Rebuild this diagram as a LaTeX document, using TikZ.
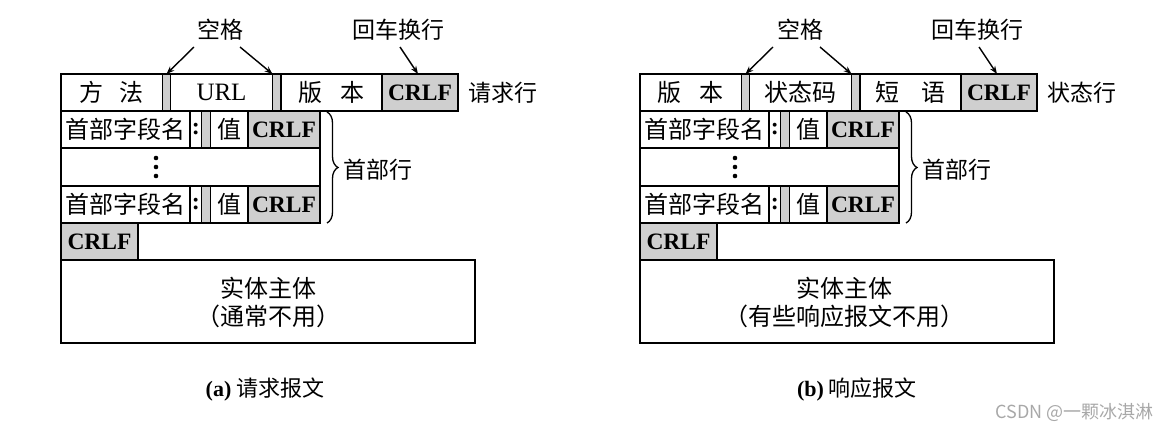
\documentclass[tikz,border=0pt]{standalone}
\usepackage{fontspec}
\setmainfont{Liberation Serif}
\newfontfamily\cjk{Noto Sans CJK SC}
\usetikzlibrary{arrows.meta,decorations.pathreplacing}
\definecolor{cellgray}{HTML}{CFCFCF}
\definecolor{wm}{HTML}{A8A8A8}
\newcommand\lat{\rmfamily}
\newcommand\cellbox[7]{\node[#2, minimum width={#5pt-#3pt}, minimum height={#6pt-#4pt}] (#1) at ({(#3+#5)/2},{(#4+#6)/2}) {#7};}
\newcommand\crlf{{\lat\bfseries\fontsize{23.5}{26}\selectfont CRLF}}
\tikzset{
  cell/.style={draw, line width=1.5pt, inner sep=0pt, outer sep=0pt, font=\cjk\fontsize{24}{26}\selectfont},
  graycell/.style={cell, fill=cellgray},
  lbl/.style={inner sep=0pt, font=\cjk\fontsize{23}{25}\selectfont},
  arr/.style={line width=1.4pt, -{Stealth[length=8pt,width=6pt]}},
  brc/.style={line width=1.3pt, decorate, decoration={brace, amplitude=11pt}},
}
\begin{document}
\begin{tikzpicture}[x=1pt,y=-1pt]
\useasboundingbox (0,0) rectangle (1170,431);
% ---------------- (a) request ----------------
\cellbox{a-meth}{cell}{61}{74}{162.5}{111}{方\hspace{16pt}法}
\cellbox{a-gap1}{graycell}{162.5}{74}{170.5}{111}{}
\cellbox{a-url}{cell}{170.5}{74}{272.5}{111}{\lat\fontsize{25}{27}\selectfont URL}
\cellbox{a-gap2}{graycell}{272.5}{74}{281}{111}{}
\cellbox{a-ver}{cell}{281}{74}{382}{111}{版\hspace{18pt}本}
\cellbox{a-crlf}{graycell}{382}{74}{458}{111}{\crlf}
\node[lbl] (a-reqline) at (503,93) {请求行};
\cellbox{a-h1name}{cell}{61}{111}{190}{148}{首部字段名}
\cellbox{a-h1col}{cell}{190}{111}{201.5}{148}{\lat\bfseries :}
\cellbox{a-h1gap}{graycell}{201.5}{111}{210.5}{148}{}
\cellbox{a-h1val}{cell}{210.5}{111}{248}{148}{值}
\cellbox{a-h1crlf}{graycell}{248}{111}{320}{148}{\crlf}
\cellbox{a-dots}{cell}{61}{148}{320}{186}{}
\cellbox{a-h2name}{cell}{61}{186}{190}{223}{首部字段名}
\cellbox{a-h2col}{cell}{190}{186}{201.5}{223}{\lat\bfseries :}
\cellbox{a-h2gap}{graycell}{201.5}{186}{210.5}{223}{}
\cellbox{a-h2val}{cell}{210.5}{186}{248}{223}{值}
\cellbox{a-h2crlf}{graycell}{248}{186}{320}{223}{\crlf}
\cellbox{a-endcrlf}{graycell}{61}{223}{138}{260}{\crlf}
\cellbox{a-body}{cell}{61}{260}{475}{343}{}
\node[lbl, font=\cjk\fontsize{24}{26}\selectfont] (a-body1) at (268,288) {实体主体};
\node[lbl, font=\cjk\fontsize{24}{26}\selectfont] (a-body2) at (268,316) {（通常不用）};
\fill (156,158) circle (2.3) (156,167) circle (2.3) (156,176) circle (2.3);
\draw[brc] (327,112) -- (327,223);
\node[lbl] (a-hdr) at (378,170) {首部行};
\node[lbl] (a-space) at (220,30) {空格};
\node[lbl] (a-cr) at (398,30) {回车换行};
\coordinate (a-s1) at (194,47);
\coordinate (a-s2) at (240,47);
\coordinate (a-s3) at (400,47);
\draw[arr] (a-s1) -- (a-gap1.north);
\draw[arr] (a-s2) -- (a-gap2.north west);
\draw[arr] (a-s3) -- ([xshift=-2pt]a-crlf.north);
\node[lbl, font=\cjk\fontsize{22}{24}\selectfont] (a-cap) at (265,390) {{\lat\bfseries (a)} 请求报文};
% ---------------- (b) response ----------------
\cellbox{b-ver}{cell}{640}{74}{741.5}{111}{版\hspace{18pt}本}
\cellbox{b-gap1}{graycell}{741.5}{74}{749.5}{111}{}
\cellbox{b-code}{cell}{749.5}{74}{851.5}{111}{状态码}
\cellbox{b-gap2}{graycell}{851.5}{74}{860}{111}{}
\cellbox{b-phr}{cell}{860}{74}{961}{111}{短\hspace{22pt}语}
\cellbox{b-crlf}{graycell}{961}{74}{1037}{111}{\crlf}
\node[lbl] (b-statline) at (1082,93) {状态行};
\cellbox{b-h1name}{cell}{640}{111}{769}{148}{首部字段名}
\cellbox{b-h1col}{cell}{769}{111}{780.5}{148}{\lat\bfseries :}
\cellbox{b-h1gap}{graycell}{780.5}{111}{789.5}{148}{}
\cellbox{b-h1val}{cell}{789.5}{111}{827}{148}{值}
\cellbox{b-h1crlf}{graycell}{827}{111}{899}{148}{\crlf}
\cellbox{b-dots}{cell}{640}{148}{899}{186}{}
\cellbox{b-h2name}{cell}{640}{186}{769}{223}{首部字段名}
\cellbox{b-h2col}{cell}{769}{186}{780.5}{223}{\lat\bfseries :}
\cellbox{b-h2gap}{graycell}{780.5}{186}{789.5}{223}{}
\cellbox{b-h2val}{cell}{789.5}{186}{827}{223}{值}
\cellbox{b-h2crlf}{graycell}{827}{186}{899}{223}{\crlf}
\cellbox{b-endcrlf}{graycell}{640}{223}{717}{260}{\crlf}
\cellbox{b-body}{cell}{640}{260}{1054}{343}{}
\node[lbl, font=\cjk\fontsize{24}{26}\selectfont] (b-body1) at (844,288) {实体主体};
\node[lbl, font=\cjk\fontsize{24}{26}\selectfont] (b-body2) at (844,316) {（有些响应报文不用）};
\fill (735,158) circle (2.3) (735,167) circle (2.3) (735,176) circle (2.3);
\draw[brc] (906,112) -- (906,223);
\node[lbl] (b-hdr) at (957,170) {首部行};
\node[lbl] (b-space) at (800,30) {空格};
\node[lbl] (b-cr) at (977,30) {回车换行};
\coordinate (b-s1) at (773,47);
\coordinate (b-s2) at (820,47);
\coordinate (b-s3) at (979,47);
\draw[arr] (b-s1) -- (b-gap1.north);
\draw[arr] (b-s2) -- (b-gap2.north west);
\draw[arr] (b-s3) -- ([xshift=-2pt]b-crlf.north);
\node[lbl, font=\cjk\fontsize{22}{24}\selectfont] (b-cap) at (857,390) {{\lat\bfseries (b)} 响应报文};
% watermark
\node[lbl, font=\cjk\fontsize{18}{20}\selectfont, text=wm, anchor=east] (wmk) at (1154,412) {CSDN @一颗冰淇淋};
\end{tikzpicture}
\end{document}
